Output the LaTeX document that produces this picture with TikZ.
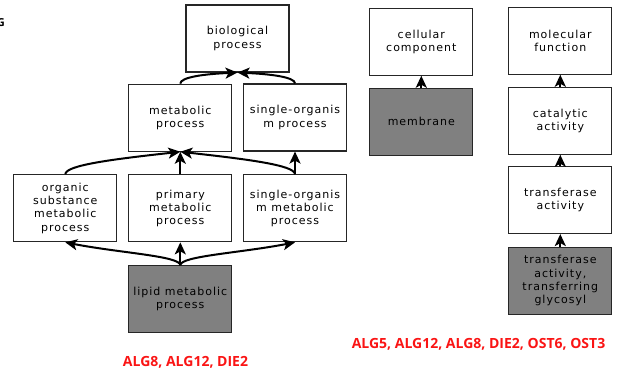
\documentclass[tikz,border=0pt]{standalone}
\usepackage{fontspec}
\setmainfont{DejaVu Sans}
\newfontfamily\boxfont[LetterSpace=9]{DejaVu Sans}
\newfontfamily\genefont{Open Sans}
\usetikzlibrary{arrows.meta}
\definecolor{termfill}{RGB}{128,128,128}
\definecolor{genered}{RGB}{250,20,20}
\begin{document}
\begin{tikzpicture}[x=1pt,y=-1pt,
  term/.style={draw=black!85, line width=1.1pt, fill=white,
    minimum width=103pt, minimum height=67pt, inner sep=0pt,
    align=center, text=black,
    font=\boxfont\fontsize{11}{13.3}\selectfont},
  annotated/.style={term, fill=termfill},
  isa/.style={line width=2pt, black,
    -{Stealth[length=12pt,width=11pt,inset=3pt]}},
  genes/.style={text=genered, font=\genefont\bfseries\fontsize{14}{16}\selectfont}]
\useasboundingbox (0,0) rectangle (617,373);

% partly visible heading at the left edge
\node[anchor=base east, inner sep=0pt, font=\genefont\bfseries\fontsize{11}{12}\selectfont] (head) at (5,26) {G};

% biological process branch
\node[term] (bio) at (237.5,38.5) {biological\\process};
\node[term] (met) at (180.3,117.7) {metabolic\\process};
\node[term] (sop) at (295,117.5) {single-organis\\m process};
\node[term] (osm) at (65.3,208.3) {organic\\substance\\metabolic\\process};
\node[term] (pmp) at (180.3,208.3) {primary\\metabolic\\process};
\node[term] (som) at (295,208.3) {single-organis\\m metabolic\\process};
\node[annotated] (lip) at (180.3,299.3) {lipid metabolic\\process};
\node[genes] (g1) at (185.5,362) {ALG8, ALG12, DIE2};

% cellular component branch
\node[term] (cc) at (421.3,41.7) {cellular\\component};
\node[annotated] (mem) at (421.3,121.7) {membrane};

% molecular function branch
\node[term] (mf) at (560.3,40.7) {molecular\\function};
\node[term] (cat) at (560.3,120.7) {catalytic\\activity};
\node[term] (tra) at (560.3,200) {transferase\\activity};
\node[annotated] (gly) at (560.3,280.7) {transferase\\activity,\\transferring\\glycosyl};
\node[genes] (g2) at (478.5,344) {ALG5, ALG12, ALG8, DIE2, OST6, OST3};

% is-a links
\draw[isa] (met.north) .. controls (180.3,77) and (205,74) .. (bio.south);
\draw[isa] (sop.north) .. controls (295,77) and (270,74) .. (bio.south);
\draw[isa] (osm.north) .. controls (65.3,165) and (115,159) .. (met.south);
\draw[isa] (pmp.north) -- (met.south);
\draw[isa] (som.north) .. controls (295,165) and (245,159) .. (met.south);
\draw[isa] (som.north) -- (sop.south);
\draw[isa] (lip.north) .. controls (180.3,256) and (120,253) .. (osm.south);
\draw[isa] (lip.north) -- (pmp.south);
\draw[isa] (lip.north) .. controls (180.3,256) and (240,253) .. (som.south);
\draw[isa] (mem.north) -- (cc.south);
\draw[isa] (cat.north) -- (mf.south);
\draw[isa] (tra.north) -- (cat.south);
\draw[isa] (gly.north) -- (tra.south);
\end{tikzpicture}
\end{document}
